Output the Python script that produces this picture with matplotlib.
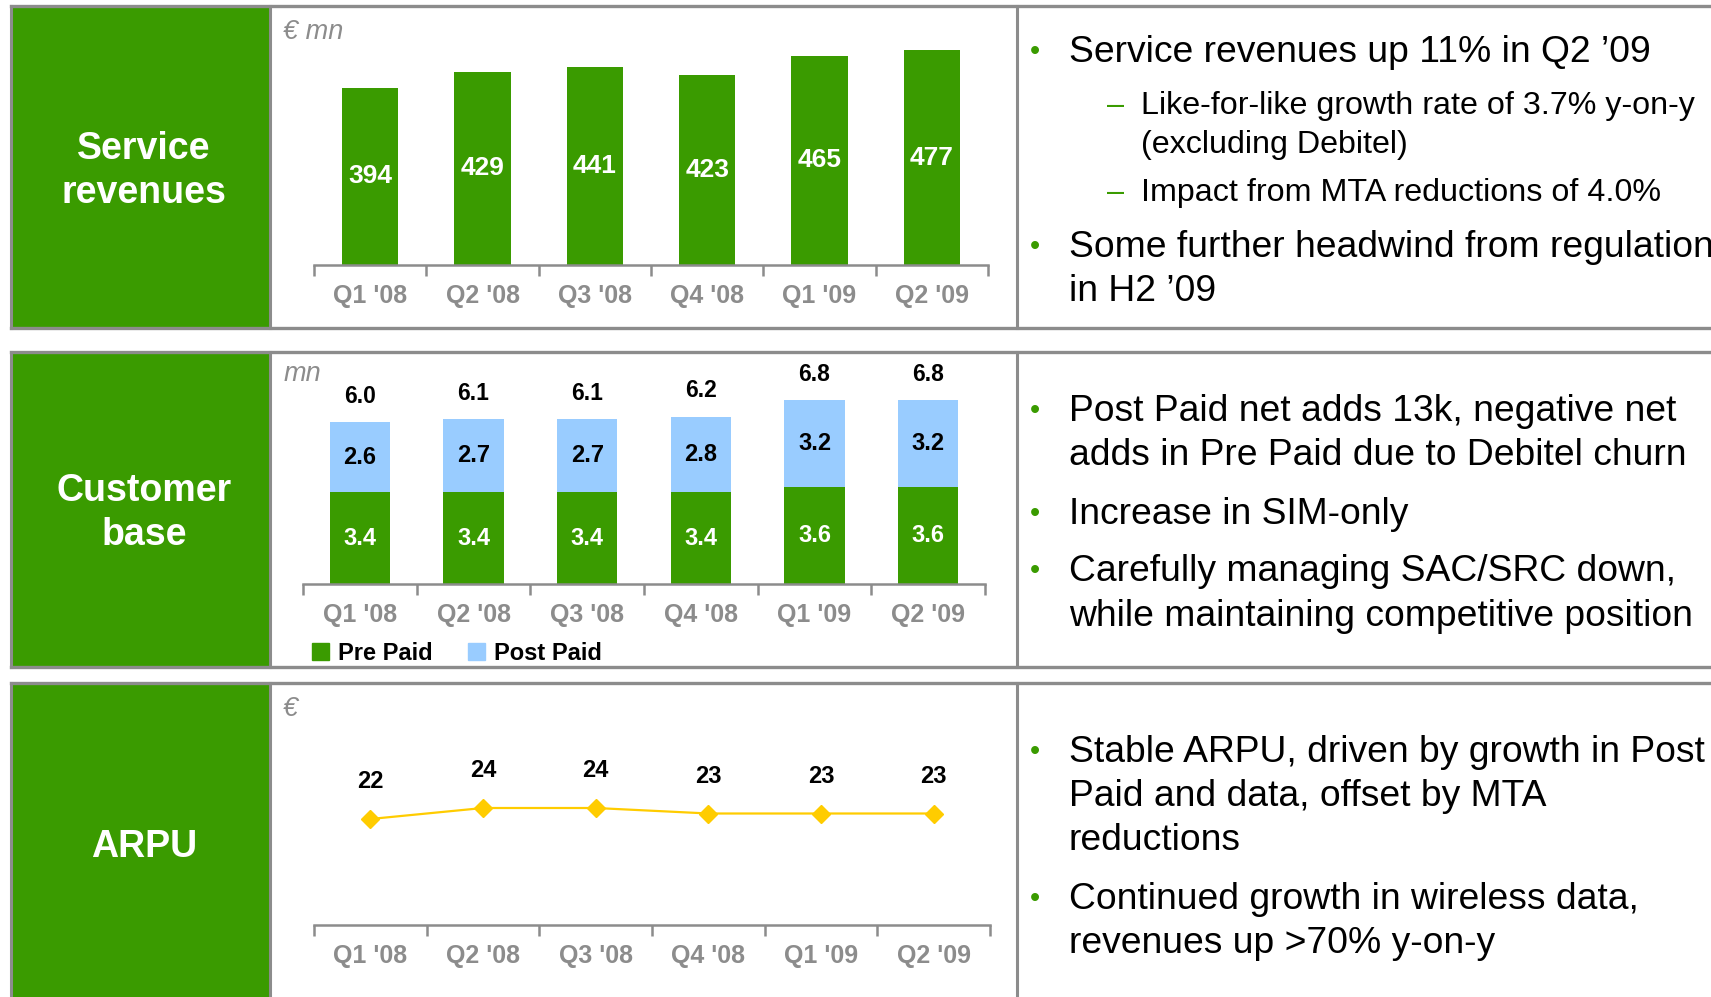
import matplotlib.pyplot as plt
import numpy as np
from matplotlib.patches import Rectangle, Patch

plt.rcParams['font.family'] = ['Liberation Sans', 'DejaVu Sans']

# data
quarters = ["Q1 '08", "Q2 '08", "Q3 '08", "Q4 '08", "Q1 '09", "Q2 '09"]
service_rev = [394, 429, 441, 423, 465, 477]
pre_paid = [3.4, 3.4, 3.4, 3.4, 3.6, 3.6]
post_paid = [2.6, 2.7, 2.7, 2.8, 3.2, 3.2]
customers_total = [6.0, 6.1, 6.1, 6.2, 6.8, 6.8]
arpu = [22, 24, 24, 23, 23, 23]

row_titles = ['Service\nrevenues', 'Customer\nbase', 'ARPU']

W, H = 1711, 997
GREEN = '#3a9b00'
BLUE = '#99ccff'
GOLD = '#ffcc00'
GREY = '#8c8c8c'

fig = plt.figure(figsize=(W / 100, H / 100), dpi=100)


def px_axes(x0, y0, x1, y1):
    return fig.add_axes([x0 / W, 1 - y1 / H, (x1 - x0) / W, (y1 - y0) / H])


# background: boxes, borders, commentary
bg = px_axes(0, 0, W, H)
bg.set_xlim(0, W)
bg.set_ylim(H, 0)
bg.axis('off')

rows = [(6, 328), (352, 667), (683, 1010)]
title_y = [171, 513, 847]
for (top, bot), title, ty in zip(rows, row_titles, title_y):
    bg.add_patch(Rectangle((11, top), 259, bot - top, color=GREEN, zorder=1))
    bg.plot([11, W], [top, top], color=GREY, lw=2.4, zorder=2)
    bg.plot([11, W], [bot, bot], color=GREY, lw=2.4, zorder=2)
    for x in (11, 270, 1017):
        bg.plot([x, x], [top, bot], color=GREY, lw=2.2, zorder=2)
    bg.text(144, ty, title, color='white', fontsize=27, fontweight='bold',
            ha='center', va='center', linespacing=1.3, zorder=3)

bg.text(283, 32, '€ mn', color=GREY, fontsize=19.5, style='italic', va='center')
bg.text(284, 374, 'mn', color=GREY, fontsize=19.5, style='italic', va='center')
bg.text(283, 709, '€', color=GREY, fontsize=19.5, style='italic', va='center')


def bullet(y, lines, step=44):
    bg.text(1035, y, '•', color=GREEN, fontsize=21, ha='center', va='center')
    for i, s in enumerate(lines):
        bg.text(1069, y + i * step, s, fontsize=26.8, va='center', color='black')


def sub(y, lines, step=39):
    bg.text(1116, y, '–', color=GREEN, fontsize=22, ha='center', va='center')
    for i, s in enumerate(lines):
        bg.text(1141, y + i * step, s, fontsize=23.2, va='center', color='black')


bullet(52, ['Service revenues up 11% in Q2 ’09'])
sub(106, ['Like-for-like growth rate of 3.7% y-on-y', '(excluding Debitel)'])
sub(193, ['Impact from MTA reductions of 4.0%'])
bullet(247, ['Some further headwind from regulation', 'in H2 ’09'])

bullet(411, ['Post Paid net adds 13k, negative net',
             'adds in Pre Paid due to Debitel churn'])
bullet(514, ['Increase in SIM-only'])
bullet(571, ['Carefully managing SAC/SRC down,',
             'while maintaining competitive position'], step=45)

bullet(752, ['Stable ARPU, driven by growth in Post',
             'Paid and data, offset by MTA', 'reductions'])
bullet(899, ['Continued growth in wireless data,',
             'revenues up >70% y-on-y'])


def style_axis(ax):
    n = len(quarters)
    for s in ['top', 'right', 'left']:
        ax.spines[s].set_visible(False)
    ax.spines['bottom'].set_color(GREY)
    ax.spines['bottom'].set_linewidth(1.8)
    ax.set_xlim(-0.5, n - 0.5)
    ax.set_xticks(range(n))
    ax.set_xticklabels(quarters, color=GREY, fontsize=18, fontweight='bold')
    ax.tick_params(axis='x', which='major', length=0, pad=14)
    ax.set_xticks(np.arange(-0.5, n), minor=True)
    ax.tick_params(axis='x', which='minor', length=8, width=1.8, color=GREY)
    ax.set_yticks([])
    ax.patch.set_alpha(0)


x = np.arange(len(quarters))

# Service revenues
ax1 = px_axes(314, 40, 988, 265)
ax1.bar(x, service_rev, width=0.5, color=GREEN)
ax1.set_ylim(0, 500)
style_axis(ax1)
for xi, v in zip(x, service_rev):
    ax1.text(xi, v / 2, str(v), color='white', fontsize=19, fontweight='bold',
             ha='center', va='center')

# Customer base
ax2 = px_axes(303, 360, 985, 584)
ax2.bar(x, pre_paid, width=0.53, color=GREEN, label='Pre Paid')
ax2.bar(x, post_paid, width=0.53, bottom=pre_paid, color=BLUE, label='Post Paid')
ax2.set_ylim(0, 224 / 27)
style_axis(ax2)
for xi, p, q, t in zip(x, pre_paid, post_paid, customers_total):
    ax2.text(xi, p / 2, f'{p:.1f}', color='white', fontsize=17, fontweight='bold',
             ha='center', va='center')
    ax2.text(xi, p + q / 2, f'{q:.1f}', color='black', fontsize=17, fontweight='bold',
             ha='center', va='center')
    ax2.annotate(f'{t:.1f}', (xi, p + q), xytext=(0, 18.5), textcoords='offset points',
                 color='black', fontsize=16.5, fontweight='bold', ha='center', va='center')
handles = [Patch(color=GREEN, label='Pre Paid'), Patch(color=BLUE, label='Post Paid')]
leg = ax2.legend(handles=handles, loc='center left', ncol=2, frameon=False,
                 bbox_to_anchor=(312 / W, 1 - 653 / H), bbox_transform=fig.transFigure,
                 borderaxespad=0, borderpad=0, handlelength=0.7, handleheight=0.7,
                 handletextpad=0.4, columnspacing=1.5,
                 prop={'size': 17, 'weight': 'bold'})

# ARPU
ax3 = px_axes(314, 700, 990, 925)
ax3.plot(x, arpu, color=GOLD, lw=1.6, marker='D', markersize=9)
ax3.set_ylim(22 - 106 / 5.5, 22 + 119 / 5.5)
style_axis(ax3)
for xi, v in zip(x, arpu):
    ax3.annotate(str(v), (xi, v), xytext=(0, 27), textcoords='offset points',
                 color='black', fontsize=17, fontweight='bold', ha='center', va='center')

fig.savefig('out.png', dpi=100)
